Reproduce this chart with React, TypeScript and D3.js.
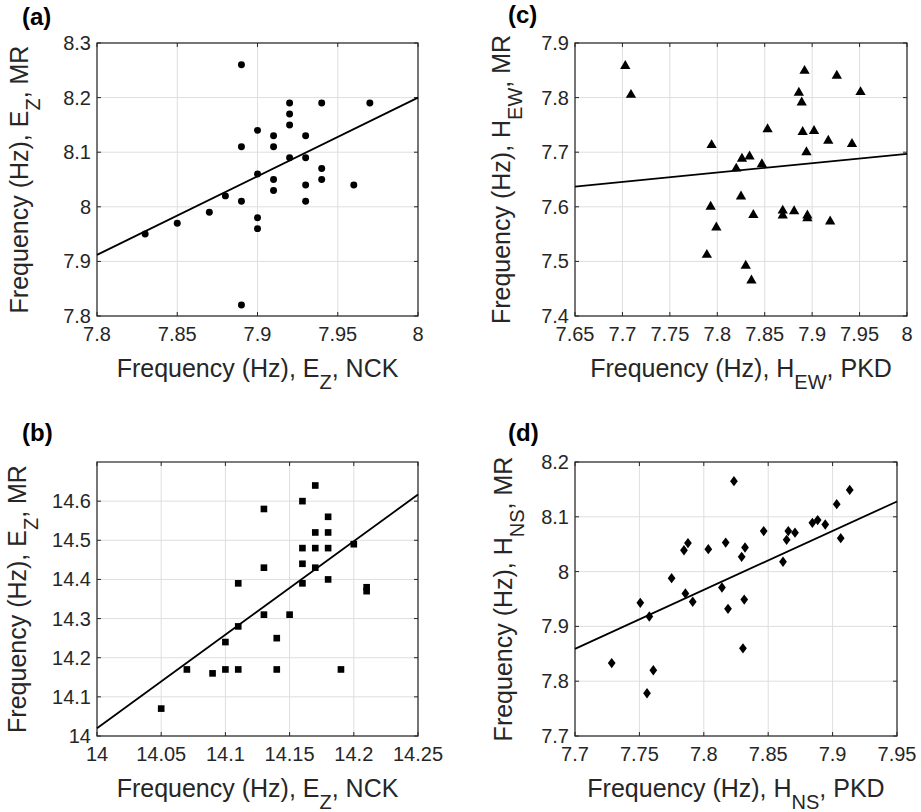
import * as d3 from "d3";

// (a) Ez NCK vs Ez MR
const aNck = [7.83, 7.85, 7.87, 7.88, 7.89, 7.89, 7.89, 7.89, 7.9, 7.9, 7.9, 7.9, 7.91, 7.91, 7.91, 7.91, 7.92, 7.92, 7.92, 7.92, 7.93, 7.93, 7.93, 7.93, 7.94, 7.94, 7.94, 7.96, 7.97];
const aMr = [7.95, 7.97, 7.99, 8.02, 8.26, 8.11, 8.01, 7.82, 8.14, 8.06, 7.98, 7.96, 8.13, 8.11, 8.05, 8.03, 8.19, 8.17, 8.15, 8.09, 8.13, 8.09, 8.04, 8.01, 8.19, 8.07, 8.05, 8.04, 8.19];
const aFit = [7.912, 8.2];
const aXTicks = [7.8, 7.85, 7.9, 7.95, 8];
const aYTicks = [7.8, 7.9, 8, 8.1, 8.2, 8.3];

// (b) Ez NCK vs Ez MR, second band
const bNck = [14.05, 14.07, 14.09, 14.1, 14.1, 14.11, 14.11, 14.11, 14.13, 14.13, 14.13, 14.14, 14.14, 14.15, 14.16, 14.16, 14.16, 14.16, 14.17, 14.17, 14.17, 14.17, 14.18, 14.18, 14.18, 14.18, 14.19, 14.2, 14.21, 14.21];
const bMr = [14.07, 14.17, 14.16, 14.17, 14.24, 14.17, 14.28, 14.39, 14.58, 14.43, 14.31, 14.25, 14.17, 14.31, 14.6, 14.48, 14.44, 14.39, 14.64, 14.52, 14.48, 14.43, 14.56, 14.52, 14.48, 14.4, 14.17, 14.49, 14.38, 14.37];
const bFit = [14.02, 14.617];
const bXTicks = [14, 14.05, 14.1, 14.15, 14.2, 14.25];
const bYTicks = [14, 14.1, 14.2, 14.3, 14.4, 14.5, 14.6];

// (c) Hew PKD vs Hew MR
const cPkd = [7.703, 7.709, 7.794, 7.793, 7.799, 7.789, 7.82, 7.826, 7.834, 7.825, 7.838, 7.83, 7.836, 7.847, 7.853, 7.869, 7.869, 7.881, 7.886, 7.889, 7.892, 7.89, 7.894, 7.895, 7.895, 7.902, 7.917, 7.926, 7.919, 7.942, 7.951];
const cMr = [7.858, 7.805, 7.713, 7.6, 7.562, 7.512, 7.67, 7.688, 7.692, 7.619, 7.585, 7.492, 7.465, 7.678, 7.742, 7.593, 7.584, 7.592, 7.809, 7.791, 7.849, 7.737, 7.7, 7.584, 7.579, 7.739, 7.721, 7.84, 7.573, 7.715, 7.81];
const cFit = [7.637, 7.697];
const cXTicks = [7.65, 7.7, 7.75, 7.8, 7.85, 7.9, 7.95, 8];
const cYTicks = [7.4, 7.5, 7.6, 7.7, 7.8, 7.9];

// (d) Hns PKD vs Hns MR
const dPkd = [7.7285, 7.7507, 7.7577, 7.7559, 7.7608, 7.775, 7.7846, 7.7877, 7.7857, 7.7914, 7.8035, 7.8141, 7.817, 7.8188, 7.8234, 7.8294, 7.832, 7.8314, 7.8304, 7.8465, 7.8615, 7.8643, 7.8656, 7.8708, 7.8843, 7.8884, 7.8943, 7.9032, 7.9063, 7.9133];
const dMr = [7.833, 7.943, 7.918, 7.778, 7.82, 7.988, 8.039, 8.052, 7.96, 7.945, 8.041, 7.971, 8.053, 7.932, 8.165, 8.027, 8.044, 7.949, 7.86, 8.074, 8.018, 8.058, 8.074, 8.071, 8.089, 8.094, 8.086, 8.123, 8.061, 8.149];
const dFit = [7.859, 8.128];
const dXTicks = [7.7, 7.75, 7.8, 7.85, 7.9, 7.95];
const dYTicks = [7.7, 7.8, 7.9, 8, 8.1, 8.2];

const FONT = "'Liberation Sans', Arial, Helvetica, sans-serif";
const INK = "#262626";

// MATLAB style diamond, a bit wider than d3's
const diamond = {
  draw(ctx, size) {
    const h = Math.sqrt(size / 1.5);
    const w = h * 0.75;
    ctx.moveTo(0, -h);
    ctx.lineTo(w, 0);
    ctx.lineTo(0, h);
    ctx.lineTo(-w, 0);
    ctx.closePath();
  },
};

const panels = [
  {
    tag: "(a)", tagX: 22, tagY: 25,
    xs: aNck, ys: aMr, fit: aFit,
    xDomain: [7.8, 8], yDomain: [7.8, 8.3], xTicks: aXTicks, yTicks: aYTicks,
    box: [97, 418, 43, 316], yLabX: 28,
    symbol: d3.symbolCircle, size: 38,
    xLab: ["Frequency (Hz), E", "Z", ", NCK"], yLab: ["Frequency (Hz), E", "Z", ", MR"],
  },
  {
    tag: "(b)", tagX: 22, tagY: 441,
    xs: bNck, ys: bMr, fit: bFit,
    xDomain: [14, 14.25], yDomain: [14, 14.7], xTicks: bXTicks, yTicks: bYTicks,
    box: [97, 418, 462, 736], yLabX: 26,
    symbol: d3.symbolSquare, size: 44,
    xLab: ["Frequency (Hz), E", "Z", ", NCK"], yLab: ["Frequency (Hz), E", "Z", ", MR"],
  },
  {
    tag: "(c)", tagX: 508, tagY: 23,
    xs: cPkd, ys: cMr, fit: cFit,
    xDomain: [7.65, 8], yDomain: [7.4, 7.9], xTicks: cXTicks, yTicks: cYTicks,
    box: [575, 907, 43, 316], yLabX: 510,
    symbol: d3.symbolTriangle, size: 46,
    xLab: ["Frequency (Hz), H", "EW", ", PKD"], yLab: ["Frequency (Hz), H", "EW", ", MR"],
  },
  {
    tag: "(d)", tagX: 508, tagY: 441,
    xs: dPkd, ys: dMr, fit: dFit,
    xDomain: [7.7, 7.95], yDomain: [7.7, 8.2], xTicks: dXTicks, yTicks: dYTicks,
    box: [575, 897, 462, 736], yLabX: 512,
    symbol: diamond, size: 40,
    xLab: ["Frequency (Hz), H", "NS", ", PKD"], yLab: ["Frequency (Hz), H", "NS", ", MR"],
  },
];

function Label({ parts, ...rest }) {
  return (
    <text textAnchor="middle" fontSize={25} fill={INK} {...rest}>
      <tspan>{parts[0]}</tspan>
      <tspan dy={12} fontSize={20}>{parts[1]}</tspan>
      <tspan dy={-12}>{parts[2]}</tspan>
    </text>
  );
}

function Panel({ p }) {
  const [left, right, top, bottom] = p.box;
  const x = d3.scaleLinear().domain(p.xDomain).range([left, right]);
  const y = d3.scaleLinear().domain(p.yDomain).range([bottom, top]);
  const marker = d3.symbol(p.symbol, p.size)();
  const fitLine = d3.line()(p.xDomain.map((v, i) => [x(v), y(p.fit[i])]));
  const tick = 4;

  return (
    <g>
      <rect x={left} y={top} width={right - left} height={bottom - top} fill="#fff" />
      {p.xTicks.map((t) => (
        <line key={"gx" + t} x1={x(t)} x2={x(t)} y1={top} y2={bottom} stroke="#dedede" strokeWidth={1} />
      ))}
      {p.yTicks.map((t) => (
        <line key={"gy" + t} x1={left} x2={right} y1={y(t)} y2={y(t)} stroke="#dedede" strokeWidth={1} />
      ))}
      {p.xTicks.map((t) => (
        <g key={"tx" + t}>
          <line x1={x(t)} x2={x(t)} y1={bottom} y2={bottom - tick} stroke={INK} />
          <line x1={x(t)} x2={x(t)} y1={top} y2={top + tick} stroke={INK} />
          <text x={x(t)} y={bottom + 25} textAnchor="middle" fontSize={20} fill={INK}>{String(t)}</text>
        </g>
      ))}
      {p.yTicks.map((t) => (
        <g key={"ty" + t}>
          <line x1={left} x2={left + tick} y1={y(t)} y2={y(t)} stroke={INK} />
          <line x1={right} x2={right - tick} y1={y(t)} y2={y(t)} stroke={INK} />
          <text x={left - 6} y={y(t)} dy="0.35em" textAnchor="end" fontSize={20} fill={INK}>{String(t)}</text>
        </g>
      ))}
      <rect x={left} y={top} width={right - left} height={bottom - top} fill="none" stroke={INK} strokeWidth={1.2} />
      <path d={fitLine} fill="none" stroke="#000" strokeWidth={1.8} />
      {p.xs.map((v, i) => (
        <path key={i} d={marker} transform={`translate(${x(v)},${y(p.ys[i])})`} fill="#000" />
      ))}
      <Label parts={p.xLab} x={(left + right) / 2} y={bottom + 61} />
      <Label parts={p.yLab} transform={`translate(${p.yLabX},${(top + bottom) / 2}) rotate(-90)`} />
      <text x={p.tagX} y={p.tagY} fontSize={24} fontWeight="bold" fill="#000">{p.tag}</text>
    </g>
  );
}

export default function App() {
  return (
    <svg
      width={921}
      height={812}
      style={{ position: "absolute", left: 0, top: 0, background: "#fff" }}
      fontFamily={FONT}
    >
      <rect width={921} height={812} fill="#fff" />
      {panels.map((p) => (
        <Panel key={p.tag} p={p} />
      ))}
    </svg>
  );
}
